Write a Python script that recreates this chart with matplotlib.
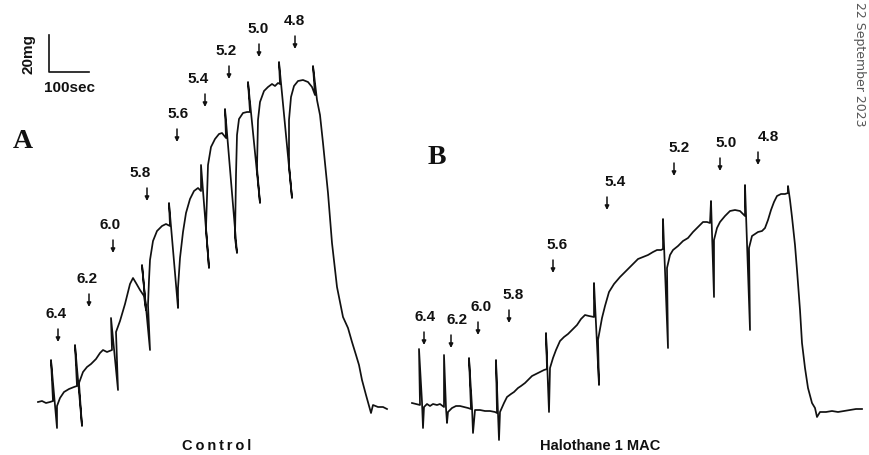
import matplotlib
matplotlib.use("Agg")
import matplotlib.pyplot as plt

# ---------------- data (chart units: time along x, pen deflection along y, y grows downward) -------------
control_t = [38, 42, 46, 50, 53, 51, 57, 57, 60, 64, 69, 74, 77, 75, 82, 79,
             83, 87, 91, 96, 100, 103, 107, 112, 111, 118, 116,
             120, 125, 130, 133, 136, 140, 144, 146, 142, 150, 148,
             149, 150, 153, 157, 162, 166, 170, 169, 178, 178,
             180, 183, 186, 190, 194, 198, 201, 201, 209, 206,
             207, 208, 211, 215, 219, 222, 226, 225, 237, 235,
             236, 237, 239, 243, 247, 250, 248, 260, 257,
             258, 260, 264, 268, 272, 275, 278, 280, 279, 292, 289,
             289, 291, 294, 298, 303, 308, 312, 315, 313, 317,
             320, 323, 328, 332, 337, 343, 348, 352, 356, 359, 362, 366, 371, 373, 378, 383, 387]
control_y = [402, 401, 403, 402, 401, 360, 428, 406, 398, 392, 389, 387, 386, 345, 426, 383,
             372, 367, 364, 359, 353, 350, 352, 350, 318, 390, 332,
             321, 304, 284, 278, 283, 290, 296, 310, 265, 350, 305,
             280, 260, 241, 231, 226, 224, 226, 203, 308, 288,
             258, 232, 213, 199, 191, 188, 191, 165, 268, 228,
             197, 165, 147, 139, 134, 133, 138, 109, 253, 238,
             175, 135, 119, 113, 112, 112, 82, 203, 168,
             120, 102, 91, 87, 84, 86, 83, 84, 62, 198, 165,
             120, 97, 86, 81, 80, 82, 87, 95, 66, 100,
             115, 143, 193, 243, 287, 317, 328, 342, 355, 365, 380, 395, 413, 405, 407, 407, 409]

halo_t = [412, 416, 420, 419, 422, 423, 424,
          427, 430, 433, 437, 440, 444, 444, 446, 447, 448,
          452, 456, 460, 464, 468, 471, 469, 472, 473, 475,
          480, 485, 490, 495, 497, 496, 499, 500,
          504, 507, 511, 514, 518, 521, 525, 528, 532, 536, 540, 544, 547, 546, 549, 550,
          553, 556, 560, 564, 568, 573, 577, 581, 585, 589, 594, 594, 599, 598,
          602, 605, 609, 614, 620, 626, 633, 638, 643, 648, 653, 657, 661, 663, 663, 668, 667,
          670, 673, 678, 683, 688, 693, 698, 703, 707, 710, 711, 714, 714,
          717, 720, 725, 730, 735, 740, 745, 745, 750, 749,
          752, 755, 758, 762, 765, 768, 771, 774, 777, 781, 785, 788, 788, 790,
          792, 795, 797, 800, 802, 805, 808, 812, 815, 817, 820, 826, 832, 838, 844, 850, 856, 862]
halo_y = [403, 404, 405, 349, 402, 428, 407,
          404, 406, 404, 405, 404, 407, 355, 408, 423, 412,
          408, 406, 406, 407, 408, 409, 358, 407, 433, 410,
          410, 411, 411, 412, 413, 360, 440, 412,
          403, 397, 394, 392, 388, 386, 383, 380, 376, 374, 372, 370, 369, 333, 412, 368,
          358, 350, 341, 337, 334, 329, 325, 319, 315, 316, 317, 283, 385, 340,
          318, 306, 292, 284, 277, 271, 264, 259, 257, 255, 252, 250, 250, 249, 219, 348, 268,
          255, 250, 246, 241, 238, 232, 227, 222, 222, 223, 201, 297, 240,
          228, 222, 216, 211, 210, 211, 216, 185, 330, 248,
          236, 234, 232, 231, 228, 220, 210, 202, 196, 194, 194, 193, 186, 200,
          217, 245, 270, 310, 343, 368, 388, 403, 408, 417, 412, 412, 411, 412, 411, 410, 409, 409]

# pCa steps (labels) and the moment each was added
pca_labels = ["6.4", "6.2", "6.0", "5.8", "5.6", "5.4", "5.2", "5.0", "4.8"]
control_add_t = [58, 89, 113, 147, 177, 205, 229, 259, 295]
control_arrow_y = [329, 294, 240, 188, 129, 94, 66, 44, 36]
control_label_t = [56, 87, 110, 140, 178, 198, 226, 258, 294]
halo_add_t = [424, 451, 478, 509, 553, 607, 674, 720, 758]
halo_arrow_y = [332, 335, 322, 310, 260, 197, 163, 158, 152]
halo_label_t = [425, 457, 481, 513, 557, 615, 679, 726, 768]

panel_titles = ["Control", "Halothane 1 MAC"]
scale_labels = ["20mg", "100sec"]
watermark = "22 September 2023"

# ---------------- figure ----------------
fig = plt.figure(figsize=(8.7, 4.55), dpi=100)
ax = fig.add_axes([0, 0, 1, 1])
ax.set_xlim(0, 870)
ax.set_ylim(455, 0)
ax.axis("off")

ink = "#111111"
ax.plot(control_t, control_y, color=ink, lw=1.25, solid_joinstyle="round")
ax.plot(halo_t, halo_y, color=ink, lw=1.25, solid_joinstyle="round")

lab_font = dict(family=["Liberation Sans", "DejaVu Sans"], fontweight="bold",
                fontsize=11, color=ink)

def arrows(add_t, arrow_y, label_t):
    for lab, xt, ya, xl in zip(pca_labels, add_t, arrow_y, label_t):
        ax.annotate("", xy=(xt, ya + 13), xytext=(xt, ya),
                    arrowprops=dict(arrowstyle="-|>", color=ink, lw=1.1,
                                    mutation_scale=6, shrinkA=0, shrinkB=0))
        ax.text(xl, ya - 8, lab, ha="center", va="bottom", **lab_font)

arrows(control_add_t, control_arrow_y, control_label_t)
arrows(halo_add_t, halo_arrow_y, halo_label_t)

# scale bar
ax.plot([49, 49, 89], [35, 72, 72], color=ink, lw=1.2)
ax.text(29, 54, scale_labels[0], rotation=90, ha="center", va="center", **lab_font)
ax.text(70, 88, scale_labels[1], ha="center", va="center", **lab_font)

# panel letters
serif = dict(family=["Liberation Serif", "DejaVu Serif"], fontweight="bold",
             fontsize=20, color=ink)
ax.text(23, 142, "A", ha="center", va="center", **serif)
ax.text(437, 158, "B", ha="center", va="center", **serif)

# panel titles
ax.text(217, 446, "\u2009".join(panel_titles[0]), ha="center", va="center",
        family=["Liberation Sans", "DejaVu Sans"], fontweight="bold", fontsize=10.5, color=ink)
ax.text(600, 446, panel_titles[1], ha="center", va="center",
        family=["Liberation Sans", "DejaVu Sans"], fontweight="bold", fontsize=10.5, color=ink)

# watermark on the right edge
ax.text(860, 2, watermark, rotation=270, ha="center", va="top",
        family=["DejaVu Sans"], fontsize=9, color="#555555")

fig.savefig("out.png", dpi=100)
